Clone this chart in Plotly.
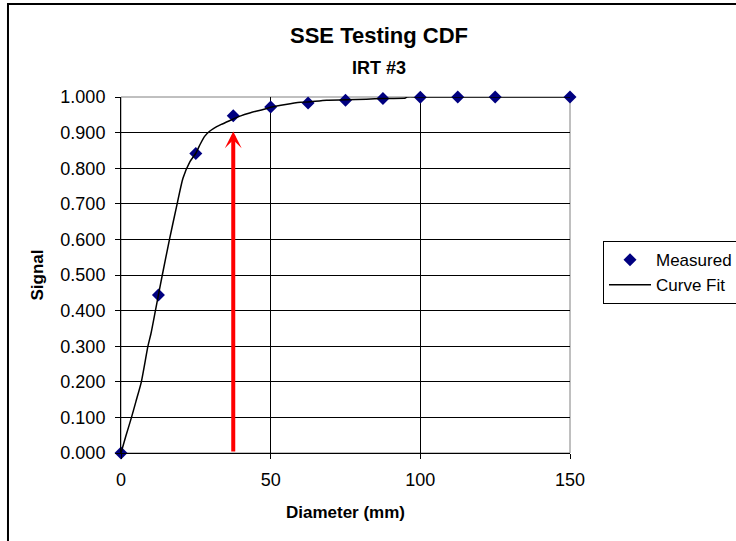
import plotly.graph_objects as go

# Measured data
diameter_mm = [0, 12.5, 25, 37.5, 50, 62.5, 75, 87.5, 100, 112.5, 125, 150]
measured_signal = [0.000, 0.444, 0.841, 0.947, 0.972, 0.983, 0.991, 0.996, 0.999, 1.000, 1.000, 1.000]

# Curve fit
fit_x = [0, 1.6, 3.5, 5, 6.8, 9, 10, 11.5, 12.5, 13.8, 16.2, 18.5, 20.7, 23, 25, 26.5,
         28, 29.5, 31, 33.5, 36.4, 40, 43, 47.5, 50, 55, 60, 62.5, 68.7, 75, 82, 87.5,
         95, 95.5, 100, 125, 150]
fit_signal = [0, 0.047, 0.1, 0.145, 0.2, 0.3, 0.335, 0.4, 0.444, 0.5, 0.6, 0.69, 0.772,
              0.818, 0.842, 0.868, 0.89, 0.903, 0.912, 0.923, 0.934, 0.947, 0.955, 0.965,
              0.971, 0.979, 0.985, 0.986, 0.991, 0.992, 0.994, 0.996, 0.997, 1.0, 1.0,
              1.0, 1.0]

# Arrow marker
arrow_x = 37.5
arrow_top = 0.903

y_ticks = [0.0, 0.1, 0.2, 0.3, 0.4, 0.5, 0.6, 0.7, 0.8, 0.9, 1.0]
x_ticks = [0, 50, 100, 150]

FONT = "Arial, Liberation Sans, sans-serif"

fig = go.Figure()
fig.add_trace(go.Scatter(
    x=diameter_mm, y=measured_signal, mode="markers", name="Measured",
    marker=dict(symbol="diamond", size=10, color="#000080"),
    cliponaxis=False,
))
fig.add_trace(go.Scatter(
    x=fit_x, y=fit_signal, mode="lines", name="Curve Fit",
    line=dict(color="black", width=1.5, shape="spline", smoothing=0.6),
    cliponaxis=False,
))

fig.add_annotation(
    x=arrow_x, y=arrow_top, ax=arrow_x, ay=0, xref="x", yref="y", axref="x", ayref="y",
    showarrow=True, arrowhead=3, arrowsize=0.7, arrowwidth=4, arrowcolor="#ff0000", text="",
)

# Titles
fig.add_annotation(text="<b>SSE Testing CDF</b>", x=0.5746, y=1.174, xref="paper", yref="paper",
                   showarrow=False, font=dict(family=FONT, size=22, color="black"),
                   xanchor="center", yanchor="middle")
fig.add_annotation(text="<b>IRT #3</b>", x=0.5746, y=1.0815, xref="paper", yref="paper",
                   showarrow=False, font=dict(family=FONT, size=18, color="black"),
                   xanchor="center", yanchor="middle")

# Plot-area border (gray) and outer chart border
fig.add_shape(type="rect", xref="paper", yref="paper", x0=0, y0=0, x1=1, y1=1,
              line=dict(color="#808080", width=1), layer="between")
fig.add_shape(type="rect", xref="paper", yref="paper", x0=-0.2517, y0=-0.6, x1=1.6, y1=1.2612,
              line=dict(color="black", width=2), layer="below")

fig.update_layout(
    width=736, height=541,
    margin=dict(l=121, r=166, t=97, b=88, autoexpand=False),
    paper_bgcolor="white", plot_bgcolor="white",
    font=dict(family=FONT, size=18, color="black"),
    showlegend=True,
    legend=dict(x=1.0735, y=0.595, xanchor="left", yanchor="top",
                bordercolor="#000000", borderwidth=1, bgcolor="white",
                font=dict(family=FONT, size=17, color="black"),
                tracegroupgap=0, itemwidth=42),
    xaxis=dict(range=[0, 150], tickvals=x_ticks, ticktext=[str(v) for v in x_ticks],
               showgrid=True, gridcolor="black", gridwidth=1,
               showline=True, linecolor="black", linewidth=1,
               ticks="outside", ticklen=5, tickcolor="black", ticklabelstandoff=5,
               zeroline=False, tickfont=dict(size=18), automargin=False,
               title=dict(text="<b>Diameter (mm)</b>", font=dict(family=FONT, size=17), standoff=17)),
    yaxis=dict(range=[0, 1], tickvals=y_ticks, ticktext=[f"{v:.3f}" for v in y_ticks],
               showgrid=True, gridcolor="black", gridwidth=1,
               showline=True, linecolor="black", linewidth=1,
               ticks="outside", ticklen=5, tickcolor="black", ticklabelstandoff=6,
               zeroline=False, tickfont=dict(size=18), automargin=False,
               title=dict(text="<b>Signal</b>", font=dict(family=FONT, size=17), standoff=12)),
)

fig.write_html("out.html", config={"displayModeBar": False},
               post_script="document.body.style.margin='0px';")
